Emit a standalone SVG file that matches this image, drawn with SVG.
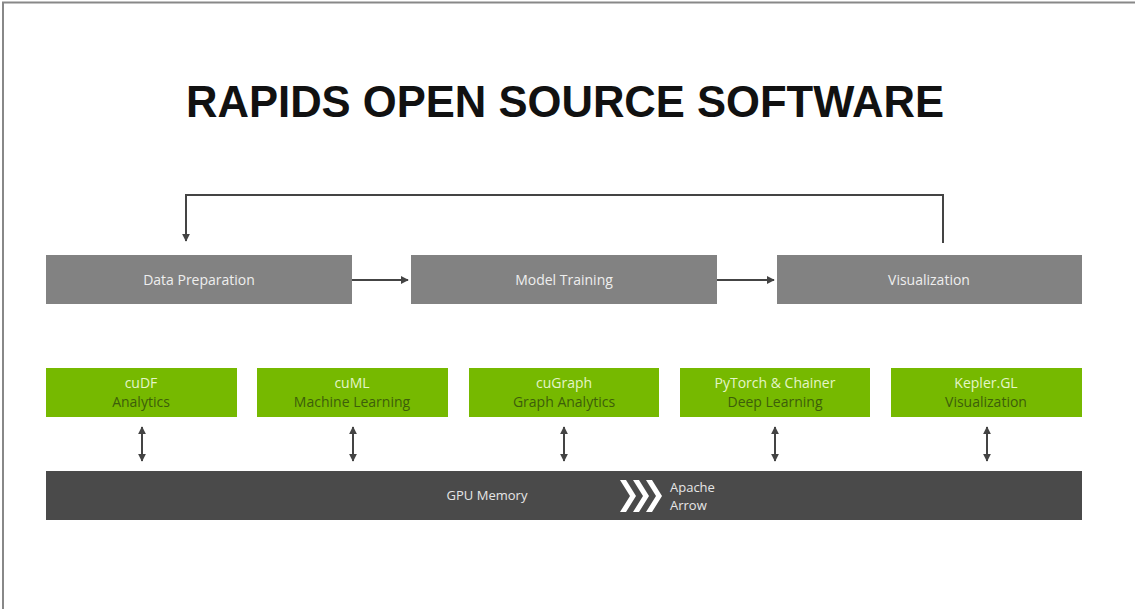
<svg xmlns="http://www.w3.org/2000/svg" width="1135" height="609" viewBox="0 0 1135 609">
<style>
.title{font-family:"Liberation Sans",Arial,sans-serif;font-weight:700;font-size:45px;fill:#111}
.stage{fill:#828282}
.stxt{font-family:"Open Sans","Liberation Sans",sans-serif;font-size:14px;fill:#eeeeee;text-anchor:middle}
.lib{fill:#76b900}
.l1{font-family:"Open Sans","Liberation Sans",sans-serif;font-size:14px;fill:#e4f5c8;text-anchor:middle}
.l2{font-family:"Open Sans","Liberation Sans",sans-serif;font-size:14px;fill:#3d5e0a;text-anchor:middle}
.conn{stroke:#444;stroke-width:2;fill:none}
.mem{fill:#4a4a4a}
.mtxt{font-family:"Open Sans","Liberation Sans",sans-serif;font-size:13px;fill:#e6e6e6}
</style>
<defs>
<marker id="ah" viewBox="0 0 10 10" refX="9" refY="5" markerWidth="4" markerHeight="4" orient="auto-start-reverse">
<path d="M0,0 L10,5 L0,10 z" fill="#444"/>
</marker>
</defs>
<rect x="0" y="0" width="1135" height="609" fill="#ffffff"/>
<path d="M3,609 L3,2.5 L1135,2.5" stroke="#888" stroke-width="2" fill="none"/>
<text class="title" x="565" y="117" text-anchor="middle" textLength="758" lengthAdjust="spacingAndGlyphs">RAPIDS OPEN SOURCE SOFTWARE</text>

<g id="connectors">
<path class="conn" d="M943,243 L943,195 L186,195 L186,241" marker-end="url(#ah)"/>
<path class="conn" d="M352,280 L408,280" marker-end="url(#ah)"/>
<path class="conn" d="M717,280 L774,280" marker-end="url(#ah)"/>
<path class="conn" d="M142,427 L142,461" marker-start="url(#ah)" marker-end="url(#ah)"/>
<path class="conn" d="M353,427 L353,461" marker-start="url(#ah)" marker-end="url(#ah)"/>
<path class="conn" d="M564,427 L564,461" marker-start="url(#ah)" marker-end="url(#ah)"/>
<path class="conn" d="M775,427 L775,461" marker-start="url(#ah)" marker-end="url(#ah)"/>
<path class="conn" d="M987,427 L987,461" marker-start="url(#ah)" marker-end="url(#ah)"/>
</g>

<g id="data-preparation"><rect class="stage" x="46" y="255" width="306" height="49"/><text class="stxt" x="199" y="285">Data Preparation</text></g>
<g id="model-training"><rect class="stage" x="411" y="255" width="306" height="49"/><text class="stxt" x="564" y="285">Model Training</text></g>
<g id="visualization"><rect class="stage" x="777" y="255" width="305" height="49"/><text class="stxt" x="929" y="285">Visualization</text></g>

<g id="cudf"><rect class="lib" x="46" y="368" width="191" height="49"/><text class="l1" x="141" y="388">cuDF</text><text class="l2" x="141" y="407">Analytics</text></g>
<g id="cuml"><rect class="lib" x="257" y="368" width="191" height="49"/><text class="l1" x="352" y="388">cuML</text><text class="l2" x="352" y="407">Machine Learning</text></g>
<g id="cugraph"><rect class="lib" x="469" y="368" width="190" height="49"/><text class="l1" x="564" y="388">cuGraph</text><text class="l2" x="564" y="407">Graph Analytics</text></g>
<g id="pytorch"><rect class="lib" x="680" y="368" width="190" height="49"/><text class="l1" x="775" y="388">PyTorch &amp; Chainer</text><text class="l2" x="775" y="407">Deep Learning</text></g>
<g id="kepler"><rect class="lib" x="891" y="368" width="191" height="49"/><text class="l1" x="986" y="388">Kepler.GL</text><text class="l2" x="986" y="407">Visualization</text></g>

<g id="gpu-memory">
<rect class="mem" x="46" y="471" width="1036" height="49"/>
<text class="mtxt" x="487" y="500" text-anchor="middle">GPU Memory</text>
<g fill="#ffffff">
<path d="M620,480 L626,480 L636,496 L626,512 L620,512 L630,496 z"/>
<path d="M633,480 L639,480 L649,496 L639,512 L633,512 L643,496 z"/>
<path d="M646,480 L652,480 L662,496 L652,512 L646,512 L656,496 z"/>
</g>
<text class="mtxt" x="670" y="492" font-size="12">Apache</text>
<text class="mtxt" x="670" y="510" font-size="12">Arrow</text>
</g>
</svg>
